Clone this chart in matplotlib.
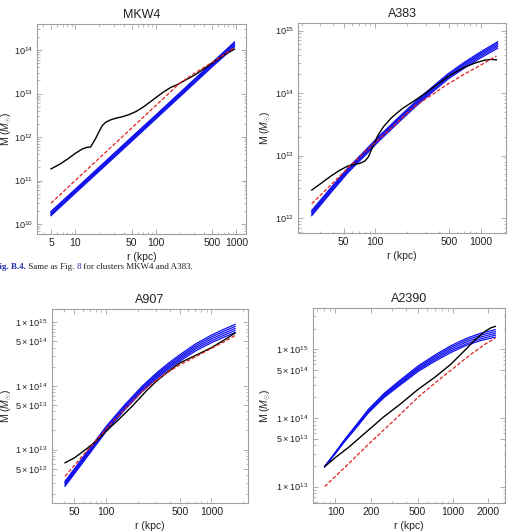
import numpy as np
import matplotlib
matplotlib.use("Agg")
import matplotlib.pyplot as plt
from matplotlib.ticker import LogLocator, NullFormatter

plt.rcParams['font.family'] = ['Liberation Sans', 'DejaVu Sans']
plt.rcParams['mathtext.fontset'] = 'custom'
plt.rcParams['mathtext.rm'] = 'Liberation Sans'
plt.rcParams['mathtext.it'] = 'Liberation Sans:italic'

# ---- MKW4 ----
mkw4_r_obs = [5, 6.5, 8.2, 10, 12.2, 14, 15.5, 17.9, 20, 21.8, 24, 27.7, 33, 39, 47, 57.5, 70, 85, 105, 126, 155, 185, 240, 303, 420, 566, 750, 950]
mkw4_m_obs = [1.85e11, 2.4e11, 3.2e11, 4.2e11, 5.3e11, 5.8e11, 5.9e11, 9.2e11, 1.4e12, 1.85e12, 2.2e12, 2.5e12, 2.75e12, 2.95e12, 3.3e12, 3.9e12, 4.9e12, 6.4e12, 8.6e12, 1.1e13, 1.4e13, 1.6e13, 2.1e13, 2.65e13, 4.0e13, 5.9e13, 8.2e13, 1.05e14]
mkw4_r_fit = [5, 10, 20, 50, 100, 200, 300, 500, 700, 950]
mkw4_m_fit = [3.0e10, 1.0e11, 3.3e11, 1.6e12, 5.3e12, 1.75e13, 2.9e13, 5.2e13, 7.8e13, 1.15e14]
mkw4_r_mod = [5, 10, 20, 50, 100, 200, 500, 950]
mkw4_m_mod = [
    [1.55e10, 5.1e10, 1.66e11, 7.9e11, 2.6e12, 8.5e12, 4.1e13, 1.18e14],
    [1.65e10, 5.4e10, 1.76e11, 8.4e11, 2.75e12, 9.0e12, 4.35e13, 1.27e14],
    [1.75e10, 5.7e10, 1.86e11, 8.9e11, 2.9e12, 9.5e12, 4.6e13, 1.36e14],
    [1.85e10, 6.0e10, 1.96e11, 9.4e11, 3.05e12, 1.0e13, 4.85e13, 1.45e14],
    [1.95e10, 6.3e10, 2.06e11, 9.9e11, 3.2e12, 1.05e13, 5.1e13, 1.54e14],
]

# ---- A383 ----
a383_r_obs = [25, 30, 38, 46, 55, 63, 71.6, 80, 86, 95, 106, 120, 142, 180, 237, 300, 394, 520, 705, 900, 1090, 1250, 1410]
a383_m_obs = [2.8e12, 3.5e12, 4.7e12, 5.8e12, 6.8e12, 7.2e12, 7.5e12, 8.2e12, 9.5e12, 1.4e13, 2.1e13, 2.9e13, 4.0e13, 5.6e13, 7.6e13, 1.0e14, 1.4e14, 1.95e14, 2.6e14, 3.05e14, 3.35e14, 3.45e14, 3.4e14]
a383_r_fit = [25, 40, 55, 80, 106, 150, 237, 350, 490, 700, 1000, 1410]
a383_m_fit = [1.7e12, 3.7e12, 6.3e12, 1.15e13, 1.75e13, 3.0e13, 6.2e13, 9.5e13, 1.4e14, 2.0e14, 2.8e14, 3.9e14]
a383_r_mod = [25, 38, 55, 80, 106, 160, 237, 350, 490, 700, 1000, 1450]
a383_m_mod = [
    [1.09e12, 2.55e12, 5.3e12, 1.0e13, 1.64e13, 3.18e13, 5.9e13, 1.04e14, 1.67e14, 2.5e14, 3.65e14, 5.2e14],
    [1.15e12, 2.68e12, 5.55e12, 1.05e13, 1.72e13, 3.34e13, 6.2e13, 1.1e14, 1.76e14, 2.65e14, 3.88e14, 5.55e14],
    [1.2e12, 2.8e12, 5.8e12, 1.1e13, 1.8e13, 3.5e13, 6.5e13, 1.15e14, 1.85e14, 2.8e14, 4.1e14, 5.9e14],
    [1.26e12, 2.93e12, 6.05e12, 1.15e13, 1.88e13, 3.66e13, 6.8e13, 1.2e14, 1.94e14, 2.95e14, 4.33e14, 6.25e14],
    [1.32e12, 3.06e12, 6.3e12, 1.2e13, 1.96e13, 3.82e13, 7.1e13, 1.26e14, 2.03e14, 3.1e14, 4.56e14, 6.6e14],
]

# ---- A907 ----
a907_r_obs = [40.8, 50, 64, 80, 100, 130, 181, 240, 302, 400, 500, 700, 1000, 1300, 1675]
a907_m_obs = [6.2e12, 7.4e12, 1.0e13, 1.35e13, 1.95e13, 2.9e13, 5.0e13, 8.3e13, 1.2e14, 1.75e14, 2.3e14, 3.0e14, 4.0e14, 5.2e14, 6.8e14]
a907_r_fit = [40.8, 60, 100, 150, 220, 302, 400, 500, 700, 1000, 1300, 1675]
a907_m_fit = [3.8e12, 8.0e12, 2.1e13, 4.3e13, 8.2e13, 1.25e14, 1.7e14, 2.15e14, 2.85e14, 3.9e14, 4.9e14, 6.2e14]
a907_r_mod = [40.8, 60, 100, 150, 220, 302, 400, 500, 700, 1000, 1300, 1675]
a907_m_mod = [
    [2.65e12, 6.2e12, 1.92e13, 4.2e13, 8.17e13, 1.31e14, 1.88e14, 2.45e14, 3.52e14, 4.79e14, 5.81e14, 6.89e14],
    [2.77e12, 6.49e12, 2.01e13, 4.39e13, 8.57e13, 1.38e14, 1.99e14, 2.6e14, 3.76e14, 5.13e14, 6.24e14, 7.42e14],
    [2.9e12, 6.8e12, 2.1e13, 4.6e13, 9.0e13, 1.45e14, 2.1e14, 2.75e14, 4.0e14, 5.5e14, 6.7e14, 8.0e14],
    [3.04e12, 7.12e12, 2.2e13, 4.82e13, 9.45e13, 1.53e14, 2.22e14, 2.91e14, 4.26e14, 5.9e14, 7.2e14, 8.62e14],
    [3.18e12, 7.45e12, 2.3e13, 5.04e13, 9.92e13, 1.61e14, 2.35e14, 3.09e14, 4.54e14, 6.31e14, 7.73e14, 9.29e14],
]

# ---- A2390 ----
a2390_r_obs = [81, 100, 130, 190, 260, 350, 504, 700, 954, 1250, 1560, 1900, 2100, 2290]
a2390_m_obs = [1.95e13, 2.65e13, 3.75e13, 6.6e13, 1.05e14, 1.55e14, 2.6e14, 3.9e14, 6.0e14, 9.5e14, 1.4e15, 1.85e15, 2.05e15, 2.15e15]
a2390_r_fit = [81, 120, 190, 300, 504, 700, 954, 1400, 1900, 2290]
a2390_m_fit = [1.0e13, 1.9e13, 4.1e13, 8.5e13, 2.0e14, 3.2e14, 4.9e14, 8.3e14, 1.2e15, 1.45e15]
a2390_r_mod = [81, 100, 120, 150, 190, 260, 350, 504, 700, 954, 1300, 1700, 2290]
a2390_m_mod = [
    [1.95e13, 3.03e13, 4.54e13, 7.16e13, 1.18e14, 1.99e14, 2.95e14, 4.74e14, 6.67e14, 8.91e14, 1.14e15, 1.33e15, 1.5e15],
    [1.95e13, 3.06e13, 4.62e13, 7.33e13, 1.21e14, 2.06e14, 3.07e14, 4.97e14, 7.03e14, 9.44e14, 1.2e15, 1.41e15, 1.6e15],
    [1.95e13, 3.1e13, 4.7e13, 7.5e13, 1.25e14, 2.13e14, 3.2e14, 5.2e14, 7.4e14, 1.0e15, 1.28e15, 1.5e15, 1.7e15],
    [1.95e13, 3.14e13, 4.78e13, 7.67e13, 1.29e14, 2.2e14, 3.33e14, 5.44e14, 7.8e14, 1.06e15, 1.36e15, 1.6e15, 1.81e15],
    [1.95e13, 3.17e13, 4.86e13, 7.85e13, 1.32e14, 2.28e14, 3.47e14, 5.7e14, 8.2e14, 1.12e15, 1.44e15, 1.7e15, 1.93e15],
]

panels = [
    dict(name="MKW4", rect=[0.0717, 0.5602, 0.405, 0.3947], ylab_x=-0.11,
         r_obs=mkw4_r_obs, m_obs=mkw4_m_obs, r_fit=mkw4_r_fit, m_fit=mkw4_m_fit,
         r_mod=mkw4_r_mod, m_mod=mkw4_m_mod,
         xlim=(3.35, 1320), ylim=(10**9.77, 10**14.6),
         xt=[5, 10, 50, 100, 500, 1000],
         yt=[1e10, 1e11, 1e12, 1e13, 1e14],
         ytl=[r'$10^{10}$', r'$10^{11}$', r'$10^{12}$', r'$10^{13}$', r'$10^{14}$']),
    dict(name="A383", rect=[0.5775, 0.562, 0.4031, 0.3947], ylab_x=-0.118,
         r_obs=a383_r_obs, m_obs=a383_m_obs, r_fit=a383_r_fit, m_fit=a383_m_fit,
         r_mod=a383_r_mod, m_mod=a383_m_mod,
         xlim=(18.5, 1740), ylim=(10**11.76, 10**15.12),
         xt=[50, 100, 500, 1000],
         yt=[1e12, 1e13, 1e14, 1e15],
         ytl=[r'$10^{12}$', r'$10^{13}$', r'$10^{14}$', r'$10^{15}$']),
    dict(name="A907", rect=[0.1008, 0.0545, 0.3798, 0.3647], ylab_x=-0.195,
         r_obs=a907_r_obs, m_obs=a907_m_obs, r_fit=a907_r_fit, m_fit=a907_m_fit,
         r_mod=a907_r_mod, m_mod=a907_m_mod,
         xlim=(30.7, 2220), ylim=(10**12.16, 10**15.21),
         xt=[50, 100, 500, 1000],
         yt=[5e12, 1e13, 5e13, 1e14, 5e14, 1e15],
         ytl=[r'$5\times10^{12}$', r'$1\times10^{13}$', r'$5\times10^{13}$',
              r'$1\times10^{14}$', r'$5\times10^{14}$', r'$1\times10^{15}$']),
    dict(name="A2390", rect=[0.6066, 0.0545, 0.3721, 0.3665], ylab_x=-0.206,
         r_obs=a2390_r_obs, m_obs=a2390_m_obs, r_fit=a2390_r_fit, m_fit=a2390_m_fit,
         r_mod=a2390_r_mod, m_mod=a2390_m_mod,
         xlim=(64.4, 2770), ylim=(10**12.76, 10**15.6),
         xt=[100, 200, 500, 1000, 2000],
         yt=[1e13, 5e13, 1e14, 5e14, 1e15],
         ytl=[r'$1\times10^{13}$', r'$5\times10^{13}$', r'$1\times10^{14}$',
              r'$5\times10^{14}$', r'$1\times10^{15}$']),
]

fig = plt.figure(figsize=(5.16, 5.32), dpi=100)
frame_col = '#a0a0a0'

for p in panels:
    ax = fig.add_axes(p["rect"])
    for m in p["m_mod"]:
        ax.plot(p["r_mod"], m, color='#1010ee', lw=0.9)
    ax.plot(p["r_obs"], p["m_obs"], color='black', lw=1.0)
    ax.plot(p["r_fit"], p["m_fit"], color='#e02020', lw=0.9, dashes=(3, 1.5))
    ax.set_xscale('log')
    ax.set_yscale('log')
    ax.set_xlim(p["xlim"])
    ax.set_ylim(p["ylim"])
    ax.set_xticks(p["xt"], [str(v) for v in p["xt"]])
    ax.set_yticks(p["yt"], p["ytl"])
    ax.xaxis.set_minor_locator(LogLocator(base=10, subs=np.arange(2, 10)))
    ax.yaxis.set_minor_locator(LogLocator(base=10, subs=np.arange(2, 10)))
    ax.xaxis.set_minor_formatter(NullFormatter())
    ax.yaxis.set_minor_formatter(NullFormatter())
    ax.tick_params(which='both', direction='in', top=True, right=True,
                   color=frame_col, labelcolor='#222222', pad=3)
    ax.tick_params(axis='x', labelsize=7.5)
    ax.tick_params(axis='y', labelsize=6.6)
    ax.tick_params(which='major', length=3.5, width=0.6)
    ax.tick_params(which='minor', length=1.8, width=0.5)
    for s in ax.spines.values():
        s.set_color(frame_col)
        s.set_linewidth(0.8)
    ax.set_title(p["name"], fontsize=9, pad=4, color='#222222')
    ax.set_xlabel('r (kpc)', fontsize=7.5, color='#222222', labelpad=3)
    ax.set_ylabel(r'M ($M_{\odot}$)', fontsize=7.5, color='#222222')
    ax.yaxis.set_label_coords(p["ylab_x"], 0.5)

# caption between the two rows
cap_ax = fig.add_axes([0, 0, 1, 1])
cap_ax.axis('off')
t1 = cap_ax.text(-0.012, 0.498, 'Fig. B.4.', fontsize=6.5, family='Liberation Serif',
                 fontweight='bold', color='#2233aa', va='center', transform=cap_ax.transAxes)
t2 = cap_ax.annotate(' Same as Fig. ', xy=(1, 0), xycoords=t1, va='bottom', ha='left',
                     fontsize=6.5, family='Liberation Serif', color='#222222')
t3 = cap_ax.annotate('8', xy=(1, 0), xycoords=t2, va='bottom', ha='left',
                     fontsize=6.5, family='Liberation Serif', color='#2233aa')
t4 = cap_ax.annotate(' for clusters MKW4 and A383.', xy=(1, 0), xycoords=t3, va='bottom', ha='left',
                     fontsize=6.5, family='Liberation Serif', color='#222222')

fig.savefig("out.png", dpi=100)
